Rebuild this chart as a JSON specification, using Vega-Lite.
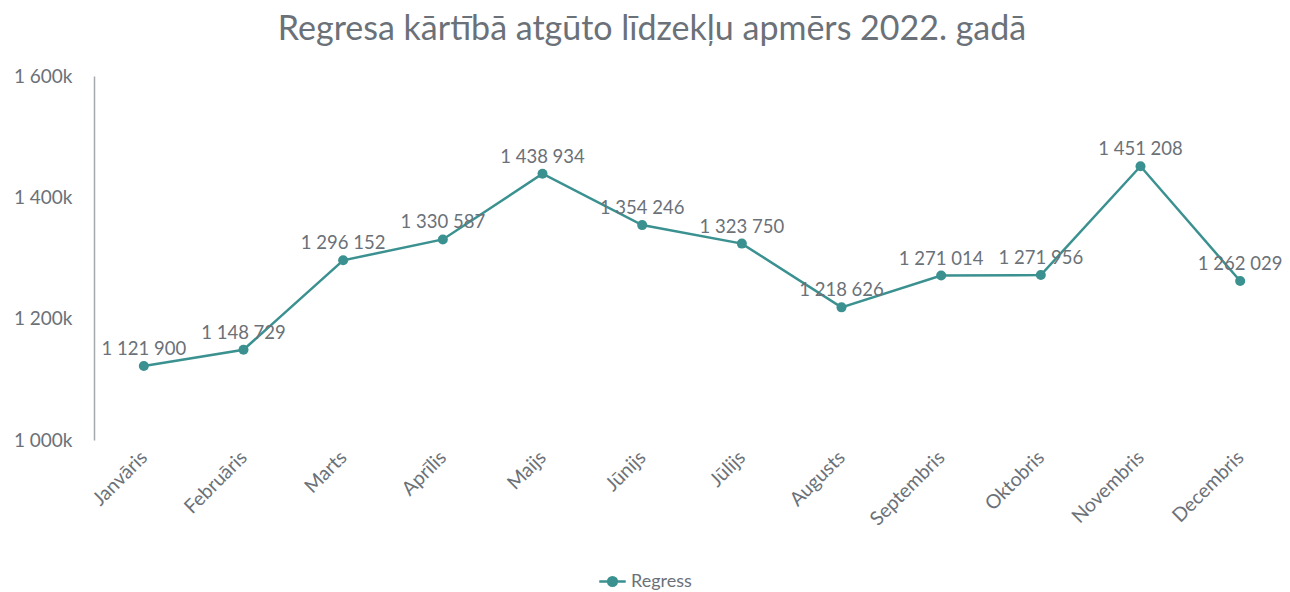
{
  "$schema": "https://vega.github.io/schema/vega-lite/v6.json",
  "width": 1196,
  "height": 364,
  "autosize": "none",
  "padding": {"left": 94, "top": 76, "right": 0, "bottom": 152},
  "background": "white",
  "config": {
    "view": {"stroke": null},
    "locale": {"number": {"decimal": ",", "thousands": " ", "grouping": [3], "currency": ["", " €"]}}
  },
  "title": {
    "text": "Regresa kārtībā atgūto līdzekļu apmērs 2022. gadā",
    "font": "Lato",
    "fontSize": 34,
    "fontWeight": "normal",
    "color": "#6b7178",
    "anchor": "middle",
    "frame": "group",
    "dx": -40,
    "offset": 20
  },
  "data": {
    "values": [
      {"month": "Janvāris", "value": 1121900, "series": "Regress"},
      {"month": "Februāris", "value": 1148729, "series": "Regress"},
      {"month": "Marts", "value": 1296152, "series": "Regress"},
      {"month": "Aprīlis", "value": 1330587, "series": "Regress"},
      {"month": "Maijs", "value": 1438934, "series": "Regress"},
      {"month": "Jūnijs", "value": 1354246, "series": "Regress"},
      {"month": "Jūlijs", "value": 1323750, "series": "Regress"},
      {"month": "Augusts", "value": 1218626, "series": "Regress"},
      {"month": "Septembris", "value": 1271014, "series": "Regress"},
      {"month": "Oktobris", "value": 1271956, "series": "Regress"},
      {"month": "Novembris", "value": 1451208, "series": "Regress"},
      {"month": "Decembris", "value": 1262029, "series": "Regress"}
    ]
  },
  "encoding": {
    "x": {
      "field": "month",
      "type": "ordinal",
      "sort": null,
      "scale": {"type": "point", "padding": 0.5},
      "axis": {
        "title": null,
        "domain": false,
        "ticks": false,
        "labelAngle": -45,
        "labelAlign": "right",
        "labelBaseline": "middle",
        "labelPadding": 14,
        "labelFont": "Lato",
        "labelFontSize": 19.5,
        "labelColor": "#6b7178"
      }
    },
    "y": {
      "field": "value",
      "type": "quantitative",
      "scale": {"domain": [1000000, 1600000], "nice": false, "zero": false},
      "axis": {
        "title": null,
        "values": [1000000, 1200000, 1400000, 1600000],
        "labelExpr": "format(datum.value / 1000, ',.0f') + 'k'",
        "grid": false,
        "ticks": false,
        "domain": true,
        "domainColor": "#a6a9ad",
        "domainWidth": 1.5,
        "labelPadding": 22,
        "labelFont": "Lato",
        "labelFontSize": 19,
        "labelColor": "#6b7178"
      }
    }
  },
  "layer": [
    {
      "mark": {"type": "line", "strokeWidth": 2.5, "point": {"size": 100, "filled": true}},
      "encoding": {
        "color": {
          "field": "series",
          "type": "nominal",
          "scale": {"range": ["#3a9190"]},
          "legend": {
            "title": null,
            "orient": "none",
            "legendX": 504,
            "legendY": 491,
            "symbolType": "M-1,0L1,0M-0.33,0A0.33,0.33 0 1,0 0.33,0A0.33,0.33 0 1,0 -0.33,0",
            "symbolSize": 700,
            "symbolStrokeWidth": 2.5,
            "symbolFillColor": "#3a9190",
            "symbolStrokeColor": "#3a9190",
            "labelFont": "Lato",
            "labelFontSize": 18,
            "labelColor": "#6b7178"
          }
        }
      }
    },
    {
      "mark": {"type": "text", "dy": -17, "font": "Lato", "fontSize": 18.5, "color": "#6b7178"},
      "encoding": {
        "text": {"field": "value", "type": "quantitative", "format": ","}
      }
    }
  ]
}
